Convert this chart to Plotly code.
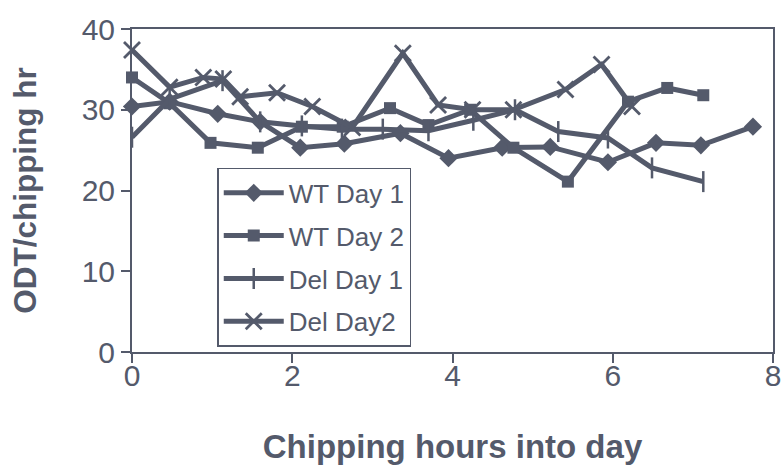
import plotly.graph_objects as go

# Chipping hours into the day and ODT per chipping hour for each run
wt_day1_x = [0.0, 0.47, 1.07, 1.6, 2.1, 2.65, 3.35, 3.95, 4.62, 5.22, 5.94, 6.54, 7.1, 7.75]
wt_day1_y = [30.4, 31.0, 29.5, 28.5, 25.3, 25.8, 27.1, 24.0, 25.3, 25.4, 23.5, 25.9, 25.6, 27.9]

wt_day2_x = [0.0, 0.47, 0.98, 1.57, 2.12, 2.63, 3.22, 3.7, 4.22, 4.76, 5.44, 6.19, 6.68, 7.13]
wt_day2_y = [34.0, 30.8, 25.9, 25.3, 27.9, 27.9, 30.2, 28.1, 30.0, 25.3, 21.1, 31.0, 32.7, 31.8]

del_day1_x = [0.0, 0.47, 1.13, 1.6, 2.12, 2.62, 3.13, 3.7, 4.26, 4.78, 5.32, 5.94, 6.49, 7.13]
del_day1_y = [26.6, 31.3, 33.6, 28.5, 28.0, 27.6, 27.6, 27.4, 28.7, 30.0, 27.3, 26.5, 22.8, 21.1]

del_day2_x = [0.0, 0.47, 0.89, 1.14, 1.35, 1.81, 2.25, 2.75, 3.38, 3.82, 4.25, 4.76, 5.41, 5.86, 6.24]
del_day2_y = [37.4, 32.8, 34.0, 33.8, 31.6, 32.1, 30.4, 27.8, 37.0, 30.6, 30.0, 30.0, 32.5, 35.6, 30.4]

x_ticks = [0, 2, 4, 6, 8]
y_ticks = [0, 10, 20, 30, 40]

INK = "#545a6b"
FONT = "Liberation Sans, Arial, sans-serif"

series = [
    ("WT Day 1", wt_day1_x, wt_day1_y, dict(symbol="diamond", size=14)),
    ("WT Day 2", wt_day2_x, wt_day2_y, dict(symbol="square", size=12)),
    ("Del Day 1", del_day1_x, del_day1_y,
     dict(symbol="line-ns", size=15, line=dict(width=2.5, color=INK))),
    ("Del Day2", del_day2_x, del_day2_y,
     dict(symbol="x-thin", size=16, line=dict(width=2.8, color=INK))),
]

fig = go.Figure()
for i, (name, xs, ys, mk) in enumerate(series):
    fig.add_trace(go.Scatter(
        x=xs, y=ys, name=name, mode="lines+markers",
        legendgroup=f"g{i}",
        line=dict(color=INK, width=5),
        marker=dict(color=INK, **mk),
        cliponaxis=False,
    ))

axis_common = dict(
    showline=True, linecolor=INK, linewidth=2, mirror=True,
    showgrid=False, zeroline=False, automargin=False,
    ticks="outside", ticklen=9, tickwidth=1.5, tickcolor=INK,
    tickfont=dict(family=FONT, size=30, color=INK),
)

fig.update_xaxes(range=[0, 8], tickvals=x_ticks, ticklabelstandoff=-13,
                 title=dict(text="<b>Chipping hours into day</b>",
                            font=dict(family=FONT, size=33, color=INK), standoff=46),
                 **axis_common)
fig.update_yaxes(range=[0, 40], tickvals=y_ticks,
                 title=dict(text="<b>ODT/chipping hr</b>",
                            font=dict(family=FONT, size=31.5, color=INK), standoff=36),
                 **axis_common)

fig.update_layout(
    width=783, height=465,
    margin=dict(l=132, r=10, t=29, b=113),
    paper_bgcolor="white", plot_bgcolor="white",
    font=dict(family=FONT, color=INK),
    legend=dict(
        x=0.133, y=0.57, xanchor="left", yanchor="top",
        bgcolor="white", bordercolor=INK, borderwidth=1.5,
        font=dict(family=FONT, size=26, color=INK),
        tracegroupgap=6, itemwidth=60,
    ),
)

fig.write_html("out.html")
